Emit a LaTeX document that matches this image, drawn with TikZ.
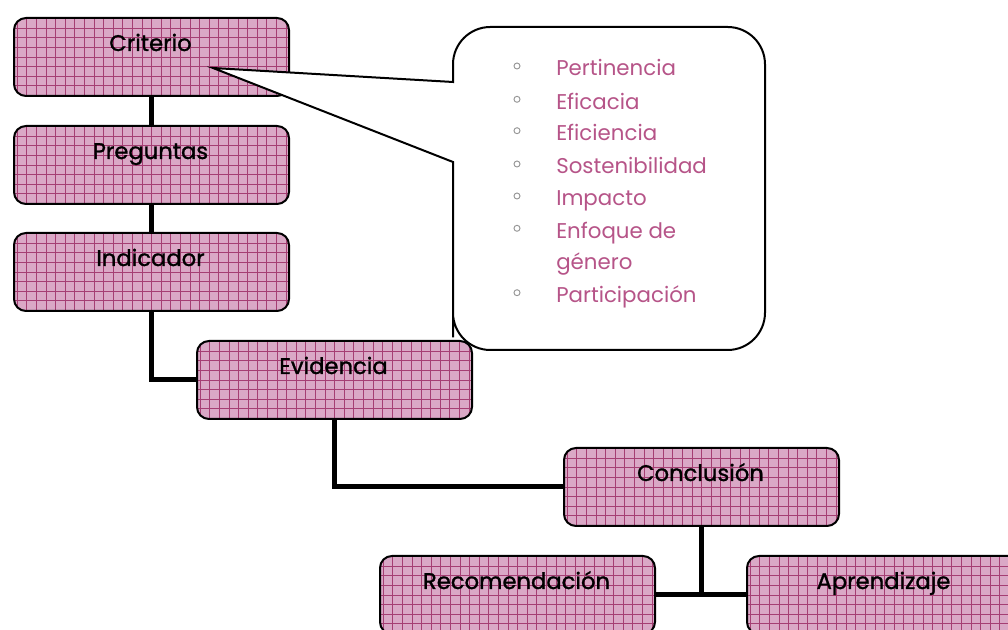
\documentclass[tikz,border=0pt]{standalone}
\usepackage{fontspec}
\setmainfont{Poppins}
\newfontfamily\labfont[FakeBold=1.2]{Poppins}
\pgfdeclarelayer{background}
\pgfsetlayers{background,main}
\definecolor{boxfill}{RGB}{218,168,198}
\definecolor{gridcol}{RGB}{165,62,115}
\definecolor{itemcol}{RGB}{182,84,136}
\definecolor{bulletcol}{RGB}{150,150,150}
\tikzset{
  box/.style={draw=black, line width=1.5pt, rounded corners=9pt, fill=boxfill,
    minimum width=206.25pt, minimum height=58.5pt, inner sep=0pt, anchor=north west,
    path picture={\draw[gridcol, line width=0.5pt, step=7.2pt]
      (path picture bounding box.south west) grid (path picture bounding box.north east);}},
  lab/.style={font=\labfont\fontsize{17}{20}\selectfont, text=black, inner sep=0pt, anchor=base},
  conn/.style={line width=3.75pt, black},
  item/.style={font=\fontsize{16}{19}\selectfont, text=itemcol, inner sep=0pt, anchor=base west},
  bul/.style={circle, draw=bulletcol, line width=0.7pt, minimum size=4.5pt, inner sep=0pt}
}
\begin{document}
\begin{tikzpicture}[x=0.75pt, y=-0.75pt]
\useasboundingbox (0,0) rectangle (1008,630);
\clip (0,0) rectangle (1008,630);
% boxes
\node[box] (crit) at (13,17) {};
\node[box] (preg) at (13,125) {};
\node[box] (ind) at (13,232) {};
\node[box] (evid) at (196,340) {};
\node[box] (concl) at (563,447) {};
\node[box] (recom) at (379,555) {};
\node[box] (apren) at (746,555) {};
% connectors behind the boxes
\begin{pgfonlayer}{background}
\draw[conn] (crit.south) -- (preg.north);
\draw[conn] (preg.south) -- (ind.north);
\draw[conn] (ind.south) |- (evid.west);
\draw[conn] (evid.south) |- (concl.west);
\draw[conn] (concl.south) -- (concl.south |- recom.west);
\draw[conn] (recom.east) -- (apren.west);
\end{pgfonlayer}
% labels
\node[lab] (critt) at (150.5,51) {Criterio};
\node[lab] (pregt) at (150.5,159) {Preguntas};
\node[lab] (indt) at (150.5,266) {Indicador};
\node[lab] (evidt) at (333.5,374) {Evidencia};
\node[lab] (conclt) at (700.5,481) {Conclusión};
\node[lab] (recomt) at (516.5,589) {Recomendación};
\node[lab] (aprent) at (883.5,589) {Aprendizaje};
% callout
\coordinate (tip) at (213,68);
\draw[black, line width=1.5pt, fill=white, rounded corners=28pt]
  (453,82) -- (453,27) -- (765,27) -- (765,350) -- (453,350) -- (453,300)
  [sharp corners] -- (453,162) -- (tip) -- cycle;
% items
\foreach \y/\t [count=\i] in {76/Pertinencia, 109.3/Eficacia, 140.7/Eficiencia,
   174/Sostenibilidad, 206/Impacto, 238.3/Enfoque de, 302.7/Participación} {
  \node[bul] (b\i) at (517,\y-10) {};
  \node[item] (it\i) at (556,\y) {\t};
}
\node[item] (it6b) at (556,270) {género};
\end{tikzpicture}
\end{document}
